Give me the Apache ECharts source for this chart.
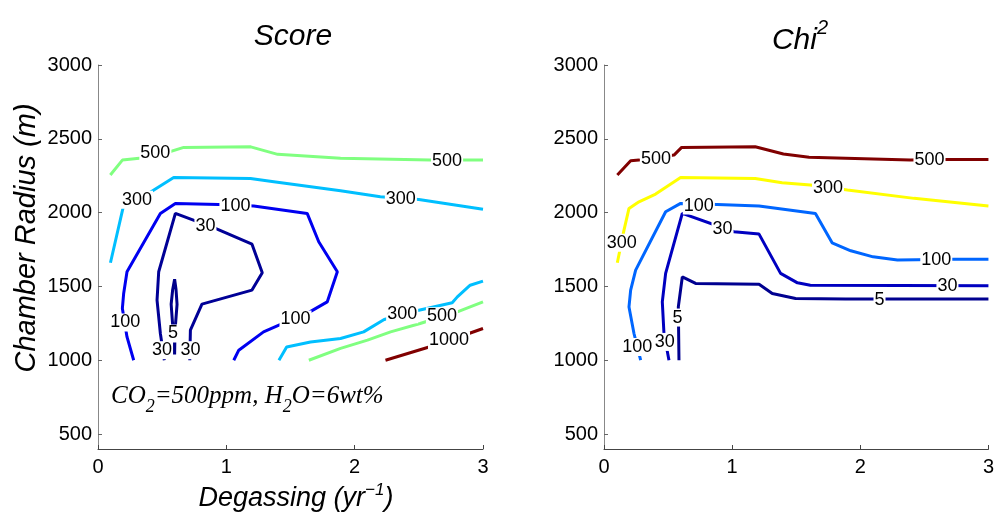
<!DOCTYPE html>
<html>
<head>
<meta charset="utf-8">
<script src="https://cdn.jsdelivr.net/npm/echarts@6/dist/echarts.min.js"></script>
<style>html,body{margin:0;padding:0;background:#fff}#c{width:997px;height:512px}</style>
</head>
<body>
<div id="c"></div>
<script>
// ---------- data (Degassing yr^-1, Chamber Radius m) ----------
var xTicks = [0, 1, 2, 3];
var yTicks = [500, 1000, 1500, 2000, 2500, 3000];

// Left panel: Score contours
var score500a = [[0.096,2255],[0.19,2356],[0.434,2379],[0.668,2442],[1.19,2446],[1.40,2395],[1.89,2368],[2.59,2356],[3.0,2356]];
var score300a = [[0.097,1661],[0.2,2051],[0.395,2131],[0.59,2239],[1.188,2232],[1.37,2210],[1.89,2148],[2.2,2108],[2.5,2090],[3.0,2024]];
var score100 = [[0.278,1001],[0.226,1159],[0.19,1352],[0.2,1453],[0.226,1600],[0.486,1995],[0.603,2063],[0.94,2056],[1.214,2045],[1.63,1995],[1.72,1803],[1.865,1600],[1.786,1396],[1.63,1318],[1.41,1238],[1.29,1193],[1.097,1069],[1.058,1001]];
var score30 = [[0.517,1001],[0.486,1182],[0.46,1408],[0.473,1600],[0.603,1995],[0.915,1894],[1.2,1787],[1.28,1593],[1.2,1476],[0.81,1381],[0.72,1205],[0.715,1001]];
var score5 = [[0.59,1040],[0.585,1200],[0.57,1380],[0.582,1480],[0.597,1550],[0.608,1480],[0.616,1380],[0.6,1200],[0.597,1040]];
var score300b = [[1.41,1001],[1.47,1091],[1.656,1125],[1.89,1148],[2.07,1193],[2.23,1277],[2.5,1340],[2.76,1390],[2.8,1430],[2.9,1509],[3.0,1537]];
var score500b = [[1.643,1001],[1.89,1081],[2.1,1137],[2.28,1193],[2.51,1250],[2.8,1329],[3.0,1396]];
var score1000 = [[2.24,1001],[2.58,1091],[2.89,1182],[3.0,1216]];
var scoreLabels = [[0.447,2404,'500'],[2.72,2352,'500'],[0.304,2088,'300'],[2.36,2094,'300'],[1.071,2048,'100'],[0.837,1909,'30'],[0.213,1257,'100'],[1.539,1277,'100'],[0.585,1182,'5'],[0.499,1069,'30'],[0.72,1069,'30'],[2.37,1313,'300'],[2.68,1299,'500'],[2.735,1137,'1000']];

// Right panel: Chi^2 contours
var chi500 = [[0.104,2255],[0.208,2352],[0.273,2356],[0.546,2390],[0.606,2442],[1.18,2446],[1.4,2397],[1.6,2375],[1.886,2368],[2.39,2356],[2.69,2361],[3.0,2361]];
var chi300 = [[0.104,1661],[0.156,1882],[0.195,2029],[0.273,2074],[0.403,2126],[0.598,2239],[1.18,2232],[1.39,2203],[1.61,2187],[1.9,2153],[2.42,2097],[3.0,2045]];
var chi100 = [[0.286,1001],[0.234,1182],[0.195,1362],[0.208,1476],[0.247,1611],[0.481,2006],[0.598,2063],[0.884,2056],[1.21,2045],[1.65,1995],[1.78,1796],[1.926,1742],[2.1,1701],[2.29,1679],[2.73,1684],[3.0,1684]];
var chi30 = [[0.507,1001],[0.468,1182],[0.455,1396],[0.481,1589],[0.611,1995],[1.014,1871],[1.21,1855],[1.378,1589],[1.51,1525],[1.61,1509],[3.0,1505]];
var chi5 = [[0.585,1001],[0.58,1362],[0.611,1565],[0.715,1521],[1.21,1516],[1.313,1453],[1.495,1419],[1.886,1415],[3.0,1415]];
var chiLabels = [[0.405,2363,'500'],[2.54,2358,'500'],[0.138,1796,'300'],[1.748,2168,'300'],[0.74,2048,'100'],[2.593,1681,'100'],[0.925,1890,'30'],[2.68,1505,'30'],[0.574,1290,'5'],[2.15,1412,'5'],[0.26,1091,'100'],[0.475,1125,'30']];

// ---------- chart ----------
var FONT = "'Liberation Sans', Arial, Helvetica, sans-serif";
var SERIF = "'Liberation Serif', 'Times New Roman', serif";
var chart = echarts.init(document.getElementById('c'), null, {renderer: 'canvas'});

function xAxis(idx) {
  return {
    gridIndex: idx, type: 'value', min: 0, max: 3, interval: 1,
    axisLine: {show: true, lineStyle: {color: '#444', width: 1}},
    axisTick: {show: true, inside: true, length: 4, lineStyle: {color: '#444'}},
    axisLabel: {color: '#000', fontSize: 20, fontFamily: FONT, margin: 8, formatter: function (v) { return String(v); }},
    splitLine: {show: false}
  };
}
function yAxis(idx) {
  return {
    gridIndex: idx, type: 'value', min: 400, max: 3000,
    axisLine: {show: true, lineStyle: {color: '#888', width: 1}},
    axisTick: {show: true, inside: true, length: 4, customValues: yTicks, lineStyle: {color: '#666'}},
    axisLabel: {color: '#000', fontSize: 20, fontFamily: FONT, margin: 6, customValues: yTicks, formatter: function (v) { return String(v); }},
    splitLine: {show: false}
  };
}
function line(data, color, idx) {
  return {
    type: 'line', xAxisIndex: idx, yAxisIndex: idx, data: data,
    showSymbol: false, symbol: 'none', smooth: false, animation: false,
    lineStyle: {color: color, width: 3}, z: 2
  };
}
function labels(data, idx) {
  return {
    type: 'scatter', xAxisIndex: idx, yAxisIndex: idx, data: data,
    symbolSize: 0, animation: false, z: 5, silent: true,
    itemStyle: {color: '#000', opacity: 1},
    label: {
      show: true, position: 'inside', color: '#000', opacity: 1, fontSize: 18, fontFamily: FONT,
      textBorderWidth: 0, textBorderColor: 'transparent', textShadowBlur: 0,
      backgroundColor: '#fff', padding: [0, 1, 0, 1],
      formatter: function (p) { return p.value[2]; }
    }
  };
}

var option = {
  backgroundColor: '#fff',
  animation: false,
  grid: [
    {left: 98, top: 65, width: 385, height: 384},
    {left: 604, top: 65, width: 385, height: 384}
  ],
  xAxis: [xAxis(0), xAxis(1)],
  yAxis: [yAxis(0), yAxis(1)],
  series: [
    line(score500a, '#80ff80', 0),
    line(score300a, '#00bfff', 0),
    line(score100, '#0000f0', 0),
    line(score30, '#000096', 0),
    line(score5, '#00008a', 0),
    line(score300b, '#00bfff', 0),
    line(score500b, '#80ff80', 0),
    line(score1000, '#800000', 0),
    labels(scoreLabels, 0),
    line(chi500, '#800000', 1),
    line(chi300, '#ffff00', 1),
    line(chi100, '#0066ff', 1),
    line(chi30, '#0000c0', 1),
    line(chi5, '#000090', 1),
    labels(chiLabels, 1)
  ],
  graphic: [
    {type: 'text', x: 293, y: 37, style: {text: 'Score', fontSize: 30, fontStyle: 'italic', fontFamily: FONT, fill: '#000', align: 'center', verticalAlign: 'middle'}},
    {type: 'text', x: 800, y: 37, style: {
      text: '{m|Chi}{s|2}', align: 'center', verticalAlign: 'middle',
      rich: {
        m: {fontSize: 30, fontStyle: 'italic', fontFamily: FONT, fill: '#000', verticalAlign: 'bottom'},
        s: {fontSize: 20, fontStyle: 'italic', fontFamily: FONT, fill: '#000', verticalAlign: 'bottom', padding: [0, 0, 17, 0]}
      }}},
    {type: 'text', x: 296, y: 497, style: {
      text: '{m|Degassing (yr}{s|\u22121}{m|)}', align: 'center', verticalAlign: 'middle',
      rich: {
        m: {fontSize: 27, fontStyle: 'italic', fontFamily: FONT, fill: '#000', verticalAlign: 'bottom'},
        s: {fontSize: 17, fontStyle: 'italic', fontFamily: FONT, fill: '#000', verticalAlign: 'bottom', padding: [0, 0, 13, 0]}
      }}},
    {type: 'text', x: 27, y: 238, rotation: Math.PI / 2, style: {
      text: 'Chamber Radius (m)', fontSize: 29, fontStyle: 'italic', fontFamily: FONT, fill: '#000', align: 'center', verticalAlign: 'middle'}},
    {type: 'text', x: 111, y: 400, style: {
      text: '{m|CO}{s|2}{m|=500ppm, H}{s|2}{m|O=6wt%}', align: 'left', verticalAlign: 'middle',
      rich: {
        m: {fontSize: 25, fontStyle: 'italic', fontFamily: SERIF, fill: '#000', verticalAlign: 'bottom', padding: [0, 0, 8, 0]},
        s: {fontSize: 18, fontStyle: 'italic', fontFamily: SERIF, fill: '#000', verticalAlign: 'bottom'}
      }}}
  ]
};
chart.setOption(option);
</script>
</body>
</html>
